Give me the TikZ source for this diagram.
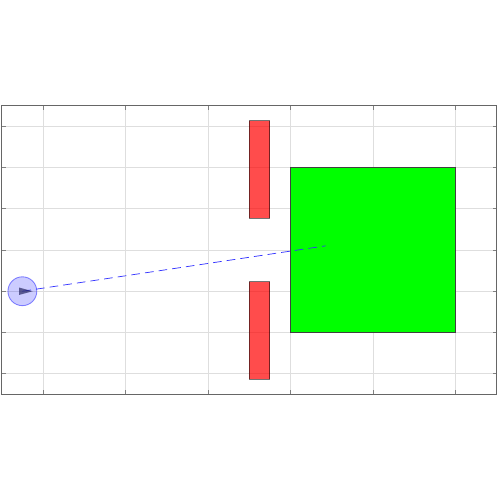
\documentclass[tikz,border=0pt]{standalone}
\begin{document}
\begin{tikzpicture}[x=1cm,y=1cm,
  gridline/.style={draw=black!13,line width=0.6pt},
  frame/.style={draw=black!60,line width=0.7pt},
  tickmark/.style={draw=black!50,line width=0.6pt},
  wall/.style={fill=red,fill opacity=0.7,draw=black,draw opacity=0.55,line width=0.8pt},
  goal/.style={fill=green,draw=black!75,line width=0.7pt},
  agent/.style={circle,minimum size=0.7cm,inner sep=0pt,fill=blue,fill opacity=0.2,draw=blue,draw opacity=0.45,line width=0.6pt},
  ray/.style={draw=blue!80,dash pattern=on 6pt off 3.5pt,line width=0.5pt}]
\useasboundingbox (-1.042,-6.06) rectangle (11.079,6.06);
% grid
\foreach \x in {0,2,...,10} \draw[gridline] (\x,-3.5) -- (\x,3.5);
\foreach \y in {-3,...,3} \draw[gridline] (-1,\y) -- (11,\y);
% ticks
\foreach \x in {0,2,...,10} {
  \draw[tickmark] (\x,-3.5) -- (\x,-3.4);
  \draw[tickmark] (\x,3.5) -- (\x,3.4);}
\foreach \y in {-3,...,3} {
  \draw[tickmark] (-1,\y) -- (-0.9,\y);
  \draw[tickmark] (11,\y) -- (10.9,\y);}
\draw[frame] (-1,-3.5) rectangle (11,3.5);
% goal
\draw[goal] (6,-2) rectangle (10,2);
% walls
\draw[wall] (5,0.77) rectangle (5.5,3.13);
\draw[wall] (5,-3.13) rectangle (5.5,-0.77);
% agent
\node[agent] (a) at (-0.5,-1) {};
\coordinate (e) at (6.85,0.1);
\draw[ray] (a.center) -- (e);
\fill[fill={rgb,255:red,40;green,40;blue,100},fill opacity=0.7] (-0.58,-0.91) -- (-0.25,-1) -- (-0.58,-1.09) -- cycle;
\end{tikzpicture}
\end{document}
